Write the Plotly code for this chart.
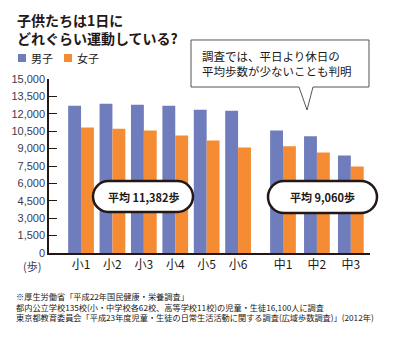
import plotly.graph_objects as go

# 学年別・男女別の1日平均歩数
grades = ["小1", "小2", "小3", "小4", "小5", "小6", "中1", "中2", "中3"]
boys = [12700, 12870, 12780, 12700, 12350, 12270, 10550, 10060, 8410]
girls = [10810, 10720, 10550, 10120, 9690, 9100, 9200, 8660, 7460]
series_names = ["男子", "女子"]
avg_labels = ["平均 11,382歩", "平均 9,060歩"]
y_ticks = list(range(0, 15001, 1500))

BLUE = "#707dbd"
ORANGE = "#f58b33"
INK = "#231815"
JP = "Noto Sans CJK JP"

W, H = 401, 337
L, R, T, B = 49, 370, 79, 253  # plot area in pixels


def px(x):
    return (x - L) / (R - L)


def py(y):
    return (B - y) / (B - T)


def pt(x, y):
    return f"{px(x):.5f},{py(y):.5f}"


def pill_path(x0, y0, x1, y1):
    r = (y1 - y0) / 2
    k = 0.5523 * r
    return (
        f"M {pt(x0 + r, y0)} L {pt(x1 - r, y0)} "
        f"C {pt(x1 - r + k, y0)} {pt(x1, y0 + r - k)} {pt(x1, y0 + r)} "
        f"C {pt(x1, y0 + r + k)} {pt(x1 - r + k, y1)} {pt(x1 - r, y1)} "
        f"L {pt(x0 + r, y1)} "
        f"C {pt(x0 + r - k, y1)} {pt(x0, y0 + r + k)} {pt(x0, y0 + r)} "
        f"C {pt(x0, y0 + r - k)} {pt(x0 + r - k, y0)} {pt(x0 + r, y0)} Z"
    )


# 小学校は等間隔、中学校は少し間を空けて配置
xpos = [i for i in range(6)] + [6.43 + 1.08 * j for j in range(3)]
bw = 0.41

fig = go.Figure()
fig.add_bar(x=xpos, y=boys, name=series_names[0], marker_color=BLUE,
            width=bw, offset=-bw, marker_line_width=0)
fig.add_bar(x=xpos, y=girls, name=series_names[1], marker_color=ORANGE,
            width=bw, offset=0, marker_line_width=0)

shapes = []
# 平均値の吹き出し（角丸）
for (x0, y0, x1, y1) in [(93, 181, 193, 212), (268, 181, 377, 213)]:
    shapes.append(dict(type="path", xref="paper", yref="paper",
                       path=pill_path(x0, y0, x1, y1),
                       fillcolor="white", line=dict(color=INK, width=2.5),
                       layer="above"))
# 補足の吹き出し
bubble = [(191, 40), (369, 40), (369, 87), (313, 87), (307, 110), (299, 87), (191, 87)]
shapes.append(dict(type="path", xref="paper", yref="paper",
                   path="M " + " L ".join(pt(x, y) for x, y in bubble) + " Z",
                   fillcolor="white", line=dict(color="#555555", width=1),
                   layer="above"))
# 凡例の色見本
for (x0, col) in [(18, BLUE), (64, ORANGE)]:
    shapes.append(dict(type="rect", xref="paper", yref="paper",
                       x0=px(x0), x1=px(x0 + 8), y0=py(62), y1=py(54),
                       fillcolor=col, line=dict(width=0)))

ann = []


def text(x, y, s, size, color=INK, xanchor="left", bold=False, family=JP):
    if bold:
        s = f"<b>{s}</b>"
    ann.append(dict(x=px(x), y=py(y), xref="paper", yref="paper", text=s,
                    showarrow=False, xanchor=xanchor, yanchor="middle",
                    align="left", font=dict(family=family, size=size, color=color)))


text(15, 29, "<b>子供たちは1日に<br>どれぐらい運動している?</b>", 14)
text(29, 58, series_names[0], 11)
text(75, 58, series_names[1], 11)
text(200, 63.5, "調査では、平日より休日の<br>平均歩数が少ないことも判明", 11.5)
text(144, 196.5, avg_labels[0], 11, xanchor="center", bold=True)
text(322, 197, avg_labels[1], 11, xanchor="center", bold=True)
text(32, 266, "(歩)", 11, color="#3a3a55", xanchor="center")
text(14, 306, "※厚生労働省「平成22年国民健康・栄養調査」<br>"
              "都内公立学校135校(小・中学校各62校、高等学校11校)の児童・生徒16,100人に調査<br>"
              "東京都教育委員会「平成23年度児童・生徒の日常生活活動に関する調査(広域歩数調査)」(2012年)",
     8.2)

fig.update_layout(
    width=W, height=H,
    margin=dict(l=L, r=W - R, t=T, b=H - B, pad=0),
    paper_bgcolor="white", plot_bgcolor="white",
    showlegend=False,
    barmode="overlay",
    shapes=shapes, annotations=ann,
    xaxis=dict(range=[-1.02, 9.2], tickvals=xpos, ticktext=grades,
               showgrid=False, zeroline=False, showline=True,
               linecolor=INK, linewidth=1.5, ticks="",
               tickfont=dict(family=JP, size=12, color=INK), fixedrange=True),
    yaxis=dict(range=[0, 15000], tickvals=y_ticks, tickformat=",",
               showgrid=False, zeroline=False, showline=True,
               linecolor=INK, linewidth=1.5, ticks="inside", ticklen=8,
               tickcolor=INK, tickwidth=1.2,
               tickfont=dict(family="Liberation Sans", size=11, color="#3a3a55"),
               fixedrange=True),
)

fig.write_html("out.html")
